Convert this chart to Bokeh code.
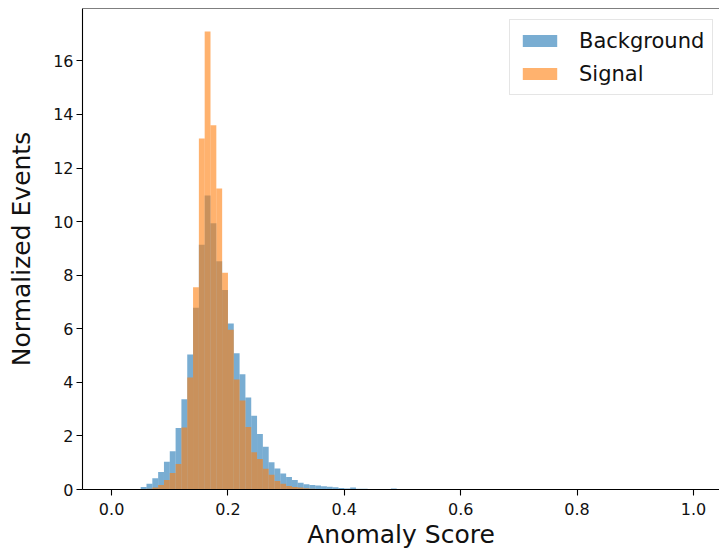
from bokeh.plotting import figure
from bokeh.models import (ColumnDataSource, Legend, LegendItem, FixedTicker,
                          Span, CustomJSTickFormatter, Title)
from bokeh.embed import file_html
from bokeh.resources import INLINE

# Histogram bins: 100 bins of width 0.01 spanning [0, 1]
bin_edges = [round(0.01 * i, 2) for i in range(101)]

# Normalized event density per bin (density histograms)
background = (
    [0.0] * 4
    + [0.02, 0.09, 0.21, 0.42, 0.65, 1.04, 1.43, 2.30, 3.37, 5.04,
       6.78, 9.14, 10.97, 9.94, 8.52, 7.45, 6.20, 5.09, 4.30, 3.43,
       2.75, 2.07, 1.60, 1.02, 0.78, 0.60, 0.47, 0.35, 0.25, 0.20,
       0.17, 0.15, 0.12, 0.10, 0.08, 0.06, 0.04, 0.07, 0.03, 0.03,
       0.02, 0.02, 0.02, 0.01, 0.04, 0.01]
    + [0.0] * 50
)
signal = (
    [0.0] * 6
    + [0.03, 0.07, 0.17, 0.35, 0.62, 0.95, 2.31, 4.18, 7.55, 13.10,
       17.10, 13.60, 11.24, 8.09, 5.96, 4.11, 3.32, 2.33, 1.39, 1.14,
       0.77, 0.55, 0.32, 0.21, 0.13, 0.09, 0.07, 0.05, 0.03, 0.02,
       0.01]
    + [0.0] * 63
)

series_names = ["Background", "Signal"]
series_colors = ["#1f77b4", "#ff7f0e"]
x_ticks = [0.0, 0.2, 0.4, 0.6, 0.8, 1.0]
y_ticks = [0, 2, 4, 6, 8, 10, 12, 14, 16]
x_label = "Anomaly Score"
y_label = "Normalized Events"

FONT = "DejaVu Sans"
x_lo, x_hi = -0.05, 1.0448
y_top = max(max(background), max(signal)) * 1.05

p = figure(width=719, height=550, output_backend="svg", toolbar_location=None,
           x_range=(x_lo, x_hi), y_range=(0, y_top),
           min_border_left=82, min_border_right=0, min_border_top=8,
           min_border_bottom=61)
p.outline_line_color = None
p.xgrid.visible = False
p.ygrid.visible = False
p.background_fill_color = "white"
p.border_fill_color = "white"


def bins_source(heights):
    left, right, top = [], [], []
    for i, h in enumerate(heights):
        if h > 0:
            left.append(bin_edges[i])
            right.append(bin_edges[i + 1])
            top.append(h)
    return ColumnDataSource(dict(left=left, right=right, top=top,
                                 bottom=[0] * len(top)))


renderers = []
for heights, color in zip([background, signal], series_colors):
    r = p.quad(left="left", right="right", top="top", bottom="bottom",
               source=bins_source(heights), fill_color=color, fill_alpha=0.6,
               line_color=None)
    renderers.append(r)

# top spine
p.add_layout(Span(location=y_top, dimension="width", line_color="black",
                  line_width=1.1))

for ax in (p.xaxis[0], p.yaxis[0]):
    ax.axis_line_color = "black"
    ax.axis_line_width = 1.1
    ax.major_tick_line_color = "black"
    ax.major_tick_line_width = 1.1
    ax.major_tick_in = 0
    ax.major_tick_out = 6
    ax.minor_tick_line_color = None
    ax.major_label_text_font = FONT
    ax.major_label_text_font_size = "16px"
    ax.major_label_text_color = "#111111"
    ax.major_label_standoff = 3
    ax.axis_label_text_font = FONT
    ax.axis_label_text_font_size = "25px"
    ax.axis_label_text_font_style = "normal"
    ax.axis_label_text_color = "#111111"

p.xaxis[0].ticker = FixedTicker(ticks=x_ticks)
p.xaxis[0].formatter = CustomJSTickFormatter(code="return tick.toFixed(1);")
p.xaxis[0].major_label_standoff = 7

# x-axis title, stacked below the tick labels
p.add_layout(Title(text=x_label, align="center", standoff=0,
                   text_font=FONT, text_font_size="25px",
                   text_font_style="normal", text_color="#111111"), "below")

p.yaxis[0].ticker = FixedTicker(ticks=y_ticks)
p.yaxis[0].axis_label = y_label
p.yaxis[0].axis_label_standoff = 14

legend = Legend(
    items=[LegendItem(label=n, renderers=[r]) for n, r in zip(series_names, renderers)],
    location=(427, 394),
    label_text_font=FONT, label_text_font_size="21px", label_text_color="#111111",
    glyph_width=43, glyph_height=15, label_standoff=18, label_height=25,
    spacing=8, padding=8, margin=0,
    border_line_color="#cccccc", border_line_width=1,
    background_fill_color="white", background_fill_alpha=0.8,
)
p.add_layout(legend)

open("out.html", "w").write(file_html(p, INLINE))
